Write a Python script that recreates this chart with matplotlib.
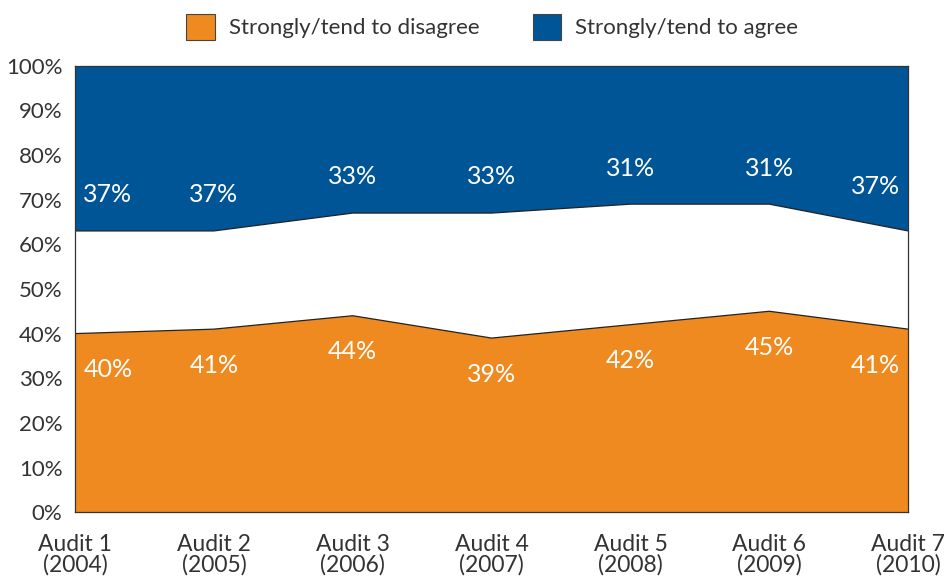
import matplotlib.pyplot as plt
import numpy as np
from matplotlib.patches import Patch

plt.rcParams['font.family'] = ['Lato', 'DejaVu Sans']

audits = ["Audit 1\n(2004)", "Audit 2\n(2005)", "Audit 3\n(2006)", "Audit 4\n(2007)",
          "Audit 5\n(2008)", "Audit 6\n(2009)", "Audit 7\n(2010)"]
disagree = [40, 41, 44, 39, 42, 45, 41]
agree = [37, 37, 33, 33, 31, 31, 37]

orange = "#EE8A1F"
blue = "#005596"
textc = "#333333"

fig = plt.figure(figsize=(9.5, 5.82), dpi=100)
ax = fig.add_axes([0.079, 0.12, 0.877, 0.767])

x = np.arange(len(audits))
agree_bottom = [100 - a for a in agree]

ax.fill_between(x, 0, disagree, color=orange, edgecolor="none")
ax.plot(x, disagree, color="#222222", lw=0.9)
ax.fill_between(x, agree_bottom, 100, color=blue, edgecolor="none")
ax.plot(x, agree_bottom, color="#222222", lw=0.9)

ax.set_xlim(0, len(audits) - 1)
ax.set_ylim(0, 100)
ax.set_yticks(np.arange(0, 101, 10))
ax.set_yticklabels([f"{v}%" for v in range(0, 101, 10)], fontsize=16, color=textc)
ax.set_xticks(x)
ax.set_xticklabels(audits, fontsize=16.5, color=textc, linespacing=0.95)
ax.tick_params(axis="y", length=0, pad=9)
ax.tick_params(axis="x", length=0, pad=16)
for s in ax.spines.values():
    s.set_color("#333333")
    s.set_linewidth(0.9)

# data labels
n = len(audits)
for i in range(n):
    if i == 0:
        ha, xo = "left", 6
    elif i == n - 1:
        ha, xo = "right", -6
    else:
        ha, xo = "center", 0
    ax.annotate(f"{disagree[i]}%", (x[i], disagree[i]), xytext=(xo, -26),
                textcoords="offset points", ha=ha, va="center",
                color="white", fontsize=18)
    yo = 32 if i == n - 1 else 26
    ax.annotate(f"{agree[i]}%", (x[i], agree_bottom[i]), xytext=(xo, yo),
                textcoords="offset points", ha=ha, va="center",
                color="white", fontsize=18)

handles = [Patch(facecolor=orange, edgecolor="#444444", lw=0.8),
           Patch(facecolor=blue, edgecolor="#444444", lw=0.8)]
fig.legend(handles, ["Strongly/tend to disagree", "Strongly/tend to agree"],
           loc="upper center", bbox_to_anchor=(0.518, 1.01), ncol=2, frameon=False,
           fontsize=16, handlelength=1.3, handleheight=1.4, handletextpad=0.6,
           columnspacing=2.4, labelcolor=textc)

fig.savefig("out.png", dpi=100)
